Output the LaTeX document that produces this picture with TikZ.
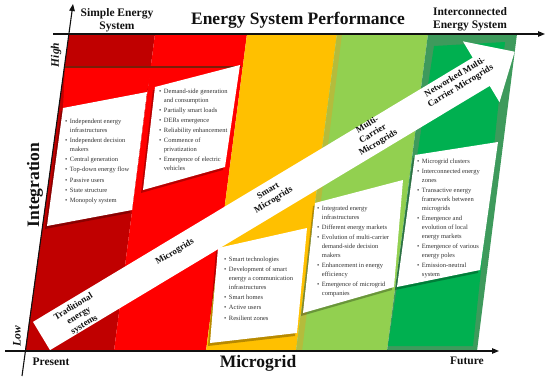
\documentclass[tikz,border=0pt]{standalone}
\usepackage{fontspec}
\setmainfont{Liberation Serif}
\usetikzlibrary{positioning,arrows.meta}
\definecolor{ink}{HTML}{111111}
\definecolor{txt}{HTML}{333333}
\definecolor{cDarkRed}{HTML}{C00000}
\definecolor{cRed}{HTML}{FF0000}
\definecolor{cAmber}{HTML}{FFC000}
\definecolor{cLime}{HTML}{92D050}
\definecolor{cGreen}{HTML}{00B050}
\definecolor{cGreenDk}{HTML}{3E9A5C}
\definecolor{cOlive}{HTML}{B4BC3C}
\definecolor{cBrown}{HTML}{7A1E08}
\tikzset{
  card/.style={fill=white},
  cardshadow/.style={fill=black, opacity=0.28},
  axis/.style={line width=1.1pt, ink, -{Triangle[length=7pt,width=5.5pt]}},
  axlbl/.style={font=\bfseries\fontsize{11.5}{13}\selectfont, align=center, text=ink, inner sep=0pt},
  biglbl/.style={font=\bfseries\fontsize{17.5}{20}\selectfont, text=ink, inner sep=0pt},
  lvl/.style={font=\bfseries\itshape\fontsize{11.5}{13}\selectfont, text=ink, rotate=90, inner sep=0pt},
  stage/.style={font=\bfseries\fontsize{9}{10.5}\selectfont, align=center, rotate=31, text=ink, inner sep=0pt},
  lst/.style={inner sep=0pt, anchor=north west, font=\fontsize{6.5}{8.8}\selectfont, text=txt},
}
\newcommand{\itm}[1]{\textbullet & #1\\[1.4pt]}
\newcommand{\itmm}[2]{\textbullet & #1\\ & #2\\[1.4pt]}
\newcommand{\itmmm}[3]{\textbullet & #1\\ & #2\\ & #3\\[1.4pt]}
\newenvironment{blist}{\begin{tabular}{@{}l@{\hspace{2.5pt}}l@{}}}{\end{tabular}}

\begin{document}
\begin{tikzpicture}[x=1pt, y=-1pt]
\useasboundingbox (0,0) rectangle (550,380);
% columns
\fill[cDarkRed] (69,34) -- (155,34) -- (114,351) -- (25,351) -- cycle;
\fill[cRed] (155,34) -- (247,34) -- (206,351) -- (114,351) -- cycle;
\fill[cAmber] (247,34) -- (337,34) -- (296,351) -- (206,351) -- cycle;
\fill[cLime] (337,34) -- (428,34) -- (387,351) -- (296,351) -- cycle;
\fill[cOlive] (337,34) -- (342,34) -- (302,351) -- (296,351) -- cycle;
\fill[cGreenDk] (428,34) -- (517,34) -- (477,351) -- (387,351) -- cycle;
\fill[cGreen] (434,46) -- (505,42) -- (473,346) -- (388,346) -- cycle;
\fill[cRed] (65,67) -- (152,67) -- (147,92) -- (63,108) -- cycle;
\draw[cBrown, line width=1.5pt] (65,67) -- (241,67);
% white boxes
\fill[cardshadow] (61,111) -- (145,95) -- (130,213) -- (45,229) -- cycle;
\fill[card] (63,108) -- (147,92) -- (132,210) -- (47,226) -- cycle;
\fill[cardshadow] (153,90) -- (238,68) -- (223,170) -- (141,193) -- cycle;
\fill[card] (155,87) -- (240,65) -- (225,167) -- (143,190) -- cycle;
\fill[cardshadow] (216,251) -- (305,231) -- (295,336) -- (208,346) -- cycle;
\fill[card] (218,248) -- (307,228) -- (297,333) -- (210,343) -- cycle;
\fill[cardshadow] (313,206) -- (401,183) -- (392,290) -- (301,316) -- cycle;
\fill[card] (315,203) -- (403,180) -- (394,287) -- (303,313) -- cycle;
\fill[cardshadow] (413,158) -- (496,145) -- (478,273) -- (395,290) -- cycle;
\fill[card] (415,155) -- (498,142) -- (480,270) -- (397,287) -- cycle;
% lists
\node[lst] (lstTrad) at (65,117.3) {\begin{blist}
\itmm{Independent energy}{infrastructures}
\itmm{Independent decision}{makers}
\itm{Central generation}
\itm{Top-down energy flow}
\itm{Passive users}
\itm{State structure}
\itm{Monopoly system}
\end{blist}};
\node[lst] (lstMicro) at (159,87) {\begin{blist}
\itmm{Demand-side generation}{and consumption}
\itm{Partially smart loads}
\itm{DERs emergence}
\itm{Reliability enhancement}
\itmm{Commence of}{privatization}
\itmm{Emergence of electric}{vehicles}
\end{blist}};
\node[lst] (lstSmart) at (224,255.3) {\begin{blist}
\itm{Smart technologies}
\itmmm{Development of smart}{energy a communication}{infrastructures}
\itm{Smart homes}
\itm{Active users}
\itm{Resilient zones}
\end{blist}};
\node[lst] (lstMulti) at (317,204.3) {\begin{blist}
\itmm{Integrated energy}{infrastructures}
\itm{Different energy markets}
\itmmm{Evolution of multi-carrier}{demand-side decision}{makers}
\itmm{Enhancement in energy}{efficiency}
\itmm{Emergence of microgrid}{companies}
\end{blist}};
\node[lst] (lstNet) at (417,157.3) {\begin{blist}
\itm{Microgrid clusters}
\itmm{Interconnected energy}{zones}
\itmmm{Transactive energy}{framework between}{microgrids}
\itmmm{Emergence and}{evolution of local}{energy markets}
\itmm{Emergence of various}{energy poles}
\itmm{Emission-neutral}{system}
\end{blist}};
% evolution arrow
\begin{scope}[shift={(41.5,336)}, rotate=31]
\fill[white] (0,-16.5) -- (513,-16.5) -- (513,-35.5) -- (552,0) -- (513,35.5) -- (513,16.5) -- (0,16.5) -- cycle;
\end{scope}
\node[stage] (sTrad) at (79,316) {Traditional\\energy\\systems};
\node[stage] (sMicro) at (175,252) {Microgrids};
\node[stage] (sSmart) at (271,196) {Smart\\Microgrids};
\node[stage] (sMulti) at (373,134) {Multi-\\Carrier\\Microgrids};
\node[stage] (sNet) at (458,82) {Networked Multi-\\Carrier Microgrids};
% axes
\coordinate (yBot) at (22,376);
\coordinate (yTop) at (73,4);
\coordinate (tLeft) at (53,34);
\coordinate (tRight) at (545,34);
\coordinate (bLeft) at (5,351);
\coordinate (bRight) at (499,351);
\draw[axis] (yBot) -- (yTop);
\draw[axis] (tLeft) -- (tRight);
\draw[axis] (bLeft) -- (bRight);
% axis labels
\node[axlbl] (simple) at (117,20.5) {Simple Energy\\System};
\node[biglbl] (perf) at (298,20) {Energy System Performance};
\node[axlbl] (inter) at (470,19.5) {Interconnected\\Energy System};
\node[biglbl, rotate=90] (integ) at (35,185) {Integration};
\node[lvl] (high) at (56,55) {High};
\node[lvl] (low) at (17,336) {Low};
\node[axlbl] (present) at (51,362) {Present};
\node[biglbl] (mgrid) at (258,363) {Microgrid};
\node[axlbl] (future) at (467,361) {Future};
\end{tikzpicture}
\end{document}
